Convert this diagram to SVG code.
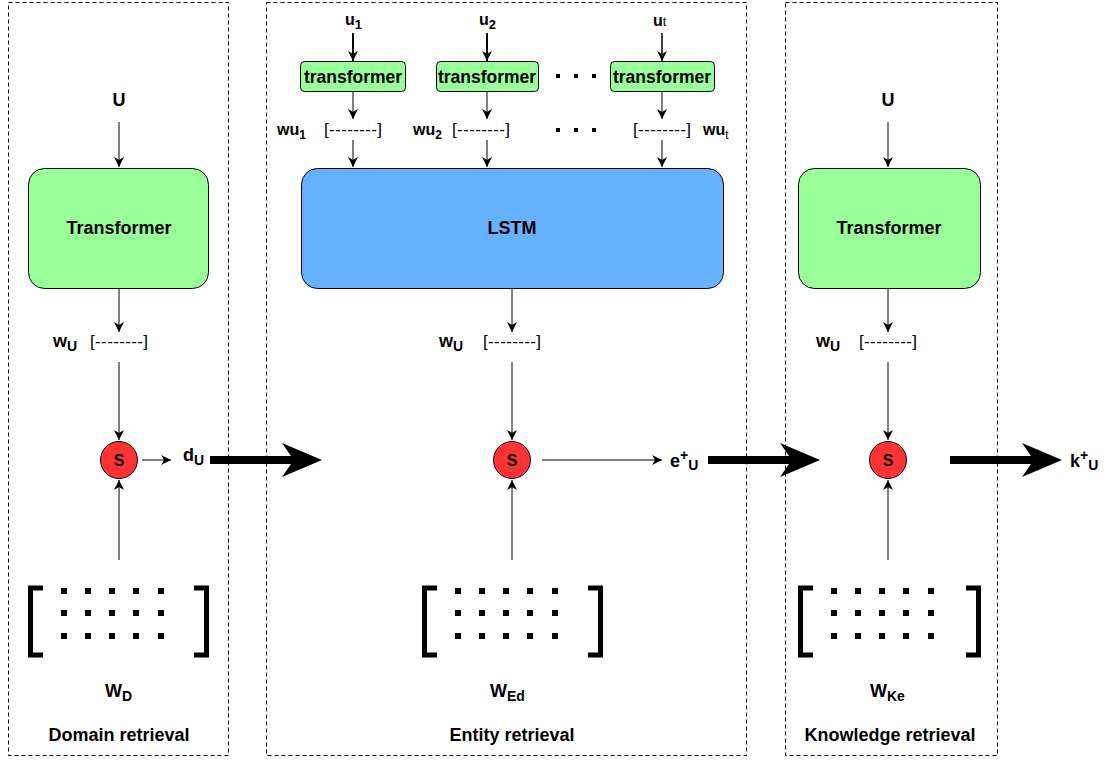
<svg xmlns="http://www.w3.org/2000/svg" width="1116" height="763" viewBox="0 0 1116 763">
  <style>
    text { font-family: "Liberation Sans", Arial, sans-serif; fill: #000; }
    .b { font-weight: bold; }
    .lbl { font-size: 18px; font-weight: bold; text-anchor: middle; }
    .tf { font-size: 17.5px; font-weight: bold; text-anchor: middle; }
    .s { font-size: 16px; font-weight: bold; text-anchor: middle; }
    .vec { font-size: 17px; text-anchor: middle; }
    .frame { fill: none; stroke: #000; stroke-width: 1; stroke-dasharray: 4 3; }
    .big { fill: #99FF99; stroke: #000; stroke-width: 1; }
    .small { fill: #99FF99; stroke: #000; stroke-width: 1; }
    .lstm { fill: #66B2FF; stroke: #000; stroke-width: 1; }
    .sum { fill: #FF3333; stroke: #000; stroke-width: 1; }
    .edge { stroke: #000; stroke-width: 1; fill: none; marker-end: url(#arr); }
    .thick { fill: #000; stroke: none; }
    .br { fill: none; stroke: #000; stroke-width: 5; }
    .dot { fill: #000; }
  </style>
  <defs>
    <marker id="arr" markerUnits="userSpaceOnUse" markerWidth="12" markerHeight="12" viewBox="0 0 12 12" refX="11" refY="6" orient="auto">
      <path d="M1,1 L11,6 L1,11 L4,6 z" fill="#000"/>
    </marker>
    <g id="matrix">
      <path class="br" d="M15,0 H2.5 V67 H15"/>
      <g class="dot">
        <rect x="33" y="0" width="6" height="6"/><rect x="57" y="0" width="6" height="6"/><rect x="81" y="0" width="6" height="6"/><rect x="105" y="0" width="6" height="6"/><rect x="130" y="0" width="6" height="6"/>
        <rect x="33" y="22" width="6" height="6"/><rect x="57" y="22" width="6" height="6"/><rect x="81" y="22" width="6" height="6"/><rect x="105" y="22" width="6" height="6"/><rect x="130" y="22" width="6" height="6"/>
        <rect x="33" y="45" width="6" height="6"/><rect x="57" y="45" width="6" height="6"/><rect x="81" y="45" width="6" height="6"/><rect x="105" y="45" width="6" height="6"/><rect x="130" y="45" width="6" height="6"/>
      </g>
    </g>
    <g id="rbr"><path class="br" d="M0,0 H12.5 V67 H0"/></g>
  </defs>

  <!-- stage frames -->
  <g id="frames">
    <rect class="frame" x="8.5" y="2.5" width="220" height="753"/>
    <rect class="frame" x="266.5" y="2.5" width="480" height="753"/>
    <rect class="frame" x="785.5" y="2.5" width="212" height="753"/>
  </g>

  <!-- connectors -->
  <g id="connectors">
    <!-- domain -->
    <line class="edge" x1="119" y1="122" x2="119" y2="167"/>
    <line class="edge" x1="119" y1="289" x2="119" y2="332"/>
    <line class="edge" x1="119" y1="362" x2="119" y2="440"/>
    <line class="edge" x1="119" y1="560" x2="119" y2="480"/>
    <line class="edge" x1="142" y1="460" x2="171" y2="460"/>
    <!-- entity -->
    <line class="edge" x1="353" y1="33" x2="353" y2="61" style="stroke-width:2"/>
    <line class="edge" x1="487" y1="33" x2="487" y2="61" style="stroke-width:2"/>
    <line class="edge" x1="662" y1="33" x2="662" y2="61" style="stroke-width:1.5"/>
    <line class="edge" x1="353" y1="92" x2="353" y2="119"/>
    <line class="edge" x1="487" y1="92" x2="487" y2="119"/>
    <line class="edge" x1="662" y1="92" x2="662" y2="119"/>
    <line class="edge" x1="353" y1="140" x2="353" y2="167"/>
    <line class="edge" x1="487" y1="140" x2="487" y2="167"/>
    <line class="edge" x1="662" y1="140" x2="662" y2="167"/>
    <line class="edge" x1="512" y1="289" x2="512" y2="332"/>
    <line class="edge" x1="512" y1="362" x2="512" y2="440"/>
    <line class="edge" x1="512" y1="560" x2="512" y2="480"/>
    <line class="edge" x1="542" y1="460" x2="662" y2="460"/>
    <!-- knowledge -->
    <line class="edge" x1="888" y1="122" x2="888" y2="167"/>
    <line class="edge" x1="888" y1="289" x2="888" y2="332"/>
    <line class="edge" x1="888" y1="362" x2="888" y2="440"/>
    <line class="edge" x1="888" y1="560" x2="888" y2="480"/>
    <!-- stage hand-off arrows -->
    <path class="thick" d="M210,456 H291 L282,443 L322,460 L282,477 L291,464 H210 z"/>
    <path class="thick" d="M708,456 H789 L780,443 L820,460 L780,477 L789,464 H708 z"/>
    <path class="thick" d="M950,456 H1031 L1022,443 L1062,460 L1022,477 L1031,464 H950 z"/>
  </g>

  <!-- domain retrieval -->
  <g id="domain">
    <text class="lbl" x="119" y="106">U</text>
    <rect class="big" x="28.5" y="168.5" width="180" height="120" rx="16"/>
    <text class="lbl" x="119" y="234">Transformer</text>
    <text class="b" x="53" y="347" font-size="18">w<tspan font-size="14" dy="4">U</tspan></text>
    <text class="vec" x="119" y="347" textLength="58" lengthAdjust="spacing">[--------]</text>
    <circle class="sum" cx="119" cy="460" r="18.5"/>
    <text class="s" x="119" y="466">S</text>
    <text class="b" x="183" y="461" font-size="18">d<tspan font-size="14" dy="4">U</tspan></text>
    <use href="#matrix" x="28" y="588"/>
    <use href="#rbr" x="194" y="588"/>
    <text class="b" x="105" y="697" font-size="18">W<tspan font-size="14" dy="4">D</tspan></text>
    <text class="lbl" x="119" y="741">Domain retrieval</text>
  </g>

  <!-- entity retrieval -->
  <g id="entity">
    <text class="b" x="345" y="25" font-size="16">u<tspan font-size="13" dy="4">1</tspan></text>
    <text class="b" x="479" y="25" font-size="16">u<tspan font-size="13" dy="4">2</tspan></text>
    <text class="b" x="653" y="26" font-size="16">u<tspan font-size="13" font-weight="normal">t</tspan></text>
    <rect class="small" x="300.5" y="61.5" width="105" height="30" rx="4"/>
    <rect class="small" x="436.5" y="61.5" width="102" height="30" rx="4"/>
    <rect class="small" x="610.5" y="61.5" width="104" height="30" rx="4"/>
    <text class="tf" x="353" y="83">transformer</text>
    <text class="tf" x="487" y="83">transformer</text>
    <text class="tf" x="662" y="83">transformer</text>
    <rect class="dot" x="556" y="74" width="4" height="4"/>
    <rect class="dot" x="574" y="74" width="4" height="4"/>
    <rect class="dot" x="592" y="74" width="4" height="4"/>
    <rect class="dot" x="556" y="128" width="4" height="4"/>
    <rect class="dot" x="574" y="128" width="4" height="4"/>
    <rect class="dot" x="592" y="128" width="4" height="4"/>
    <text class="b" x="277" y="135" font-size="16">wu<tspan font-size="12" dy="4">1</tspan></text>
    <text class="vec" x="353" y="135" textLength="58" lengthAdjust="spacing">[--------]</text>
    <text class="b" x="413" y="135" font-size="16">wu<tspan font-size="12" dy="4">2</tspan></text>
    <text class="vec" x="481" y="135" textLength="58" lengthAdjust="spacing">[--------]</text>
    <text class="vec" x="662" y="135" textLength="58" lengthAdjust="spacing">[--------]</text>
    <text class="b" x="703" y="135" font-size="16">wu<tspan font-size="12" dy="4" font-weight="normal">t</tspan></text>
    <rect class="lstm" x="301.5" y="168.5" width="422" height="120" rx="16"/>
    <text class="lbl" x="512" y="234">LSTM</text>
    <text class="b" x="439" y="347" font-size="18">w<tspan font-size="14" dy="4">U</tspan></text>
    <text class="vec" x="512" y="347" textLength="58" lengthAdjust="spacing">[--------]</text>
    <circle class="sum" cx="512" cy="460" r="18.5"/>
    <text class="s" x="512" y="466">S</text>
    <text class="b" x="670" y="467" font-size="18">e<tspan font-size="14" dy="-7">+</tspan><tspan font-size="14" dy="10">U</tspan></text>
    <use href="#matrix" x="422" y="588"/>
    <use href="#rbr" x="588" y="588"/>
    <text class="b" x="490" y="697" font-size="18">W<tspan font-size="14" dy="4">Ed</tspan></text>
    <text class="lbl" x="512" y="741">Entity retrieval</text>
  </g>

  <!-- knowledge retrieval -->
  <g id="knowledge">
    <text class="lbl" x="888" y="106">U</text>
    <rect class="big" x="798.5" y="168.5" width="182" height="120" rx="16"/>
    <text class="lbl" x="889" y="234">Transformer</text>
    <text class="b" x="816" y="347" font-size="18">w<tspan font-size="14" dy="4">U</tspan></text>
    <text class="vec" x="888" y="347" textLength="58" lengthAdjust="spacing">[--------]</text>
    <circle class="sum" cx="888" cy="460" r="18.5"/>
    <text class="s" x="888" y="466">S</text>
    <text class="b" x="1070" y="467" font-size="18">k<tspan font-size="14" dy="-7">+</tspan><tspan font-size="14" dy="10">U</tspan></text>
    <use href="#matrix" x="798" y="588"/>
    <use href="#rbr" x="966" y="588"/>
    <text class="b" x="870" y="697" font-size="18">W<tspan font-size="14" dy="4">Ke</tspan></text>
    <text class="lbl" x="890" y="741">Knowledge retrieval</text>
  </g>
</svg>
